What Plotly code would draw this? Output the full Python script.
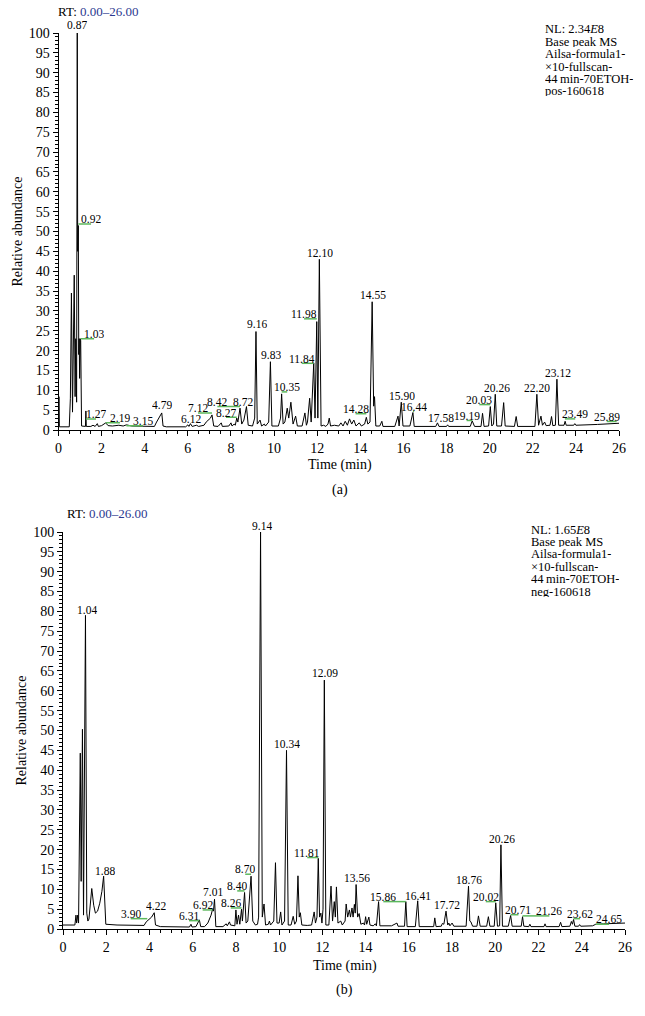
import plotly.graph_objects as go

# ---------------- data: chromatogram (a), positive mode ----------------
A_TIME = [0, 0.02, 0.04, 0.5, 0.55, 0.6, 0.65, 0.69, 0.73, 0.77, 0.8, 0.84, 0.87, 0.89, 0.92, 0.94,
          0.96, 0.98, 1.01, 1.03, 1.07, 1.25, 1.27, 1.29, 1.5, 1.6, 1.7, 1.8, 1.85, 2.0, 2.19, 2.3,
          2.5, 2.8, 3.0, 3.15, 3.4, 4.0, 4.3, 4.45, 4.55, 4.7, 4.79, 4.85, 5.0, 5.9, 6.0, 6.05,
          6.12, 6.2, 6.4, 6.5, 6.75, 6.85, 6.95, 7.05, 7.12, 7.2, 7.4, 7.55, 7.6, 7.9, 8.0, 8.05,
          8.15, 8.2, 8.27, 8.32, 8.42, 8.5, 8.6, 8.72, 8.8, 9.0, 9.1, 9.16, 9.22, 9.35, 9.42, 9.55,
          9.6, 9.75, 9.83, 9.9, 10.2, 10.3, 10.35, 10.42, 10.5, 10.61, 10.68, 10.78, 10.88, 11.0,
          11.08, 11.3, 11.43, 11.5, 11.55, 11.65, 11.72, 11.84, 11.9, 11.98, 12.03, 12.10, 12.18,
          12.3, 12.4, 12.5, 12.56, 12.62, 12.8, 13.0, 13.1, 13.2, 13.3, 13.4, 13.5, 13.6, 13.7,
          13.8, 13.95, 14.05, 14.2, 14.28, 14.35, 14.45, 14.55, 14.62, 14.66, 14.72, 14.9, 15.0,
          15.05, 15.6, 15.75, 15.8, 15.90, 15.98, 16.3, 16.44, 16.5, 17.5, 17.58, 17.65, 18.0,
          18.05, 18.1, 19.1, 19.19, 19.25, 19.3, 19.6, 19.67, 19.74, 19.95, 20.03, 20.1, 20.18,
          20.26, 20.33, 20.55, 20.65, 20.72, 21.15, 21.23, 21.3, 22.1, 22.19, 22.27, 22.38, 22.45,
          22.55, 22.62, 22.8, 22.87, 22.93, 23.05, 23.12, 23.2, 23.45, 23.5, 23.55, 23.9, 23.95,
          24.0, 25.0, 25.89, 26.0]
A_ABUND = [0.8, 8.4, 0.8, 0.8, 8, 34.5, 4.5, 24, 39, 8.4, 23, 7, 100, 45, 51.5, 19,
           23, 13, 23, 22.5, 1.0, 0.9, 4.8, 0.9, 0.9, 1.2, 0.9, 1.6, 0.9, 1.1, 1.8, 1.1,
           1.0, 1.2, 1.0, 1.3, 1.0, 0.9, 1.0, 0.9, 2.0, 3.5, 4.3, 1.0, 0.8, 0.8, 1.3, 0.9,
           1.6, 0.9, 1.2, 0.9, 1.2, 2.0, 2.5, 3.0, 3.8, 1.0, 0.9, 1.8, 0.9, 1.0, 1.8, 1.0,
           1.5, 1.2, 3.0, 2.0, 5.5, 1.5, 2.5, 5.9, 1.2, 1.0, 3.0, 24.8, 1.5, 2.5, 1.0, 1.5,
           1.0, 2.0, 17.2, 1.0, 1.0, 3.0, 9.1, 1.5, 2.0, 5.5, 3.0, 7.0, 1.5, 3.5,
           1.0, 1.0, 4.3, 1.2, 2.0, 8.0, 2.0, 16.9, 3.0, 27.3, 3.0, 43.0, 1.0,
           1.2, 0.9, 1.5, 3.0, 1.0, 1.2, 1.0, 1.8, 1.0, 2.2, 1.2, 2.8, 1.5, 2.5,
           1.0, 1.8, 1.0, 1.5, 3.2, 1.5, 2.0, 32.3, 6.0, 8.4, 1.0, 1.0, 2.2,
           0.9, 0.9, 3.5, 1.0, 7.0, 1.0, 1.0, 4.4, 0.9, 0.9, 1.8, 0.9, 0.9,
           1.3, 0.9, 0.9, 2.3, 1.2, 0.9, 0.9, 4.2, 0.9, 1.0, 5.9, 1.0, 1.5,
           9.0, 1.0, 1.0, 6.9, 1.0, 0.9, 3.4, 0.9, 0.9, 9.0, 1.2, 3.5, 1.2,
           2.0, 1.1, 1.2, 3.4, 1.1, 1.2, 12.8, 1.2, 1.2, 2.2, 1.2, 1.2, 1.6,
           1.2, 1.4, 1.8, 1.7]

# peak labels for (a): retention time text, label centre (time, abundance), green connector?
A_LABEL_RT = ["0.87", "0.92", "1.03", "1.27", "2.19", "3.15", "4.79", "6.12", "7.12", "8.42",
              "8.27", "8.72", "9.16", "9.83", "10.35", "11.98", "11.84", "12.10", "14.28",
              "14.55", "15.90", "16.44", "17.58", "19.19", "20.03", "20.26", "22.20", "23.12",
              "23.49", "25.89"]
A_LABEL_T = [0.86, 1.51, 1.65, 1.74, 2.85, 3.92, 4.80, 6.15, 6.47, 7.37,
             7.77, 8.54, 9.19, 9.86, 10.61, 11.39, 11.28, 12.13, 13.78,
             14.60, 15.93, 16.50, 17.74, 18.93, 19.52, 20.32, 22.21, 23.15,
             23.97, 25.43]
A_LABEL_V = [102.0, 53.1, 24.2, 4.0, 3.0, 2.3, 6.3, 2.8, 5.5, 7.1,
             4.4, 7.1, 26.7, 18.9, 10.8, 29.2, 18.0, 44.7, 5.3,
             34.0, 8.6, 5.9, 3.0, 3.6, 7.6, 10.5, 10.5, 14.4,
             4.0, 3.35]
A_LABEL_LINK = [False, True, True, True, True, True, False, False, True, True,
                True, False, False, False, True, True, True, False, True,
                False, False, True, False, True, True, False, False, False,
                True, True]

# ---------------- data: chromatogram (b), negative mode ----------------
B_TIME = [0, 0.55, 0.6, 0.63, 0.68, 0.72, 0.8, 0.84, 0.9, 0.95, 1.04, 1.1, 1.15, 1.2, 1.33, 1.42,
          1.5, 1.6, 1.7, 1.8, 1.88, 1.93, 1.98, 2.5, 3.0, 3.5, 3.75, 3.85, 3.95, 4.1, 4.22, 4.28,
          4.5, 5.0, 5.85, 5.92, 5.97, 6.15, 6.25, 6.31, 6.37, 6.55, 6.7, 6.85, 6.92, 6.96, 7.01,
          7.07, 7.4, 7.55, 7.6, 7.7, 7.75, 7.95, 8.0, 8.05, 8.12, 8.18, 8.26, 8.3, 8.40, 8.47,
          8.55, 8.70, 8.78, 8.9, 9.0, 9.05, 9.14, 9.22, 9.3, 9.37, 9.5, 9.55, 9.6, 9.75, 9.83,
          9.9, 10.0, 10.07, 10.13, 10.25, 10.34, 10.42, 10.55, 10.65, 10.72, 10.8, 10.87, 10.93,
          10.98, 11.05, 11.3, 11.5, 11.62, 11.68, 11.75, 11.81, 11.87, 11.93, 11.98, 12.03, 12.09,
          12.16, 12.3, 12.4, 12.47, 12.55, 12.6, 12.65, 12.72, 12.85, 12.92, 13.05, 13.1, 13.17,
          13.25, 13.3, 13.37, 13.42, 13.48, 13.52, 13.56, 13.63, 13.7, 13.78, 13.9, 13.95, 14.0,
          14.05, 14.15, 14.2, 14.35, 14.45, 14.5, 14.6, 14.66, 15.0, 15.2, 15.45, 15.5, 15.8,
          15.86, 15.92, 16.3, 16.41, 16.48, 17.15, 17.2, 17.26, 17.5, 17.55, 17.62, 17.72, 17.8,
          17.85, 17.9, 18.0, 18.08, 18.65, 18.76, 18.82, 18.87, 18.95, 19.15, 19.22, 19.3, 19.6,
          19.68, 19.75, 19.95, 20.02, 20.1, 20.2, 20.26, 20.33, 20.6, 20.71, 20.78, 21.2, 21.26,
          21.32, 21.55, 21.6, 21.65, 22.25, 22.3, 22.35, 22.95, 23.02, 23.08, 23.45, 23.52, 23.57,
          23.62, 23.68, 23.85, 23.9, 23.95, 24.5, 24.65, 25.0, 26.0]
B_ABUND = [1.0, 1.0, 3.5, 1.5, 3.5, 1.5, 44.3, 12, 50.3, 3.5, 79, 4, 2, 2.5, 10.2, 6,
           4, 4.5, 6.5, 9.5, 13.3, 5, 1.2, 1.0, 0.9, 0.8, 0.9, 1.8, 2.3, 3.0, 4.1, 1.0,
           0.6, 0.5, 0.5, 1.2, 0.5, 0.6, 1.6, 2.3, 0.6, 0.6, 1.5, 3.5, 5.0, 4.5, 7.5,
           0.6, 0.6, 1.3, 0.8, 1.8, 1.0, 0.8, 4.8, 1.2, 3.5, 1.2, 5.0, 2.0, 9.2, 1.5,
           2.0, 13.3, 2.0, 1.0, 1.2, 3.0, 100, 3.0, 6.3, 1.0, 1.2, 2.0, 1.0, 2.0, 16.7,
           1.5, 1.5, 4.3, 1.0, 2.0, 45, 1.0, 1.0, 3.2, 1.2, 2.0, 13.4, 3.0,
           4.1, 1.0, 0.9, 1.0, 4.3, 1.5, 3.0, 17.8, 3.0, 4.0, 1.5, 5.0, 62.7,
           1.0, 1.0, 10.8, 2.0, 6.9, 3.0, 10.6, 1.5, 2.0, 1.0, 2.0, 6.3, 3.0,
           4.8, 3.0, 5.3, 3.0, 6.2, 4.0, 11.2, 3.0, 3.9, 1.2, 1.5, 1.0, 3.1,
           1.2, 3.0, 1.0, 0.8, 1.3, 0.8, 6.9, 0.8, 0.7, 0.8, 1.5, 0.7, 0.7,
           6.9, 0.6, 0.6, 7.1, 0.6, 0.6, 2.8, 0.6, 0.7, 1.4, 1.2, 4.5, 1.0,
           1.5, 0.8, 1.5, 0.7, 0.7, 10.8, 2.0, 1.8, 0.7, 0.7, 3.3, 0.7, 0.7,
           3.1, 0.7, 0.7, 6.6, 0.7, 0.8, 21.2, 0.7, 0.7, 3.4, 0.7, 0.7, 3.1,
           0.7, 0.6, 1.2, 0.6, 0.6, 1.3, 0.6, 0.6, 1.7, 0.6, 0.7, 1.9, 1.2,
           2.4, 0.7, 0.7, 1.1, 0.7, 0.8, 1.2, 1.3, 1.5]

B_LABEL_RT = ["1.04", "1.88", "3.90", "4.22", "6.31", "6.92", "7.01", "8.26", "8.40", "8.70",
              "9.14", "10.34", "11.81", "12.09", "13.56", "15.86", "16.41", "17.72", "18.76",
              "20.02", "20.26", "20.71", "21.26", "23.62", "24.65"]
B_LABEL_T = [1.12, 1.96, 3.13, 4.29, 5.83, 6.46, 6.95, 7.76, 8.06, 8.43,
             9.19, 10.38, 11.30, 12.14, 13.62, 14.82, 16.44, 17.78, 18.80,
             19.56, 20.32, 21.07, 22.50, 23.92, 25.26]
B_LABEL_V = [80.4, 14.7, 3.8, 5.8, 3.3, 6.0, 9.2, 6.5, 10.8, 15.0,
             101.5, 46.5, 19.2, 64.4, 12.8, 8.1, 8.3, 6.0, 12.3,
             8.1, 22.7, 4.8, 4.5, 3.8, 2.4]
B_LABEL_LINK = [False, False, True, False, True, True, False, True, True, True,
                False, False, True, False, False, True, False, False, False,
                True, False, True, True, True, True]

X_TICKS = list(range(0, 27, 2))
Y_TICKS = list(range(0, 101, 5))
Y_MAX = 100

A_INFO = ["NL: 2.34<i>E</i>8", "Base peak MS", "Ailsa-formula1-", "\u00d710-fullscan-",
          "44\u2009min-70ETOH-", "pos-160618"]
B_INFO = ["NL: 1.65<i>E</i>8", "Base peak MS", "Ailsa-formula1-", "\u00d710-fullscan-",
          "44\u2009min-70ETOH-", "neg-160618"]

# ---------------- figure ----------------
W, H = 645, 1016
FONT = "Liberation Serif, Times New Roman, serif"
GREEN = "#5cb85c"
NAVY = "#2b3990"


def py2paper(py):
    return 1 - py / H


def px2paper(px):
    return px / W


fig = go.Figure()

panels = [
    dict(t=A_TIME, v=A_ABUND, lrt=A_LABEL_RT, lt=A_LABEL_T, lv=A_LABEL_V, link=A_LABEL_LINK,
         xa="x", ya="y", x0=58.5, x1=619, ytop=33, ybot=430, info=A_INFO, info_x=544, info_y=29,
         rt_x=56, rt_y=12, ytitle_x=17, xtitle_y=465, cap="(a)", cap_y=490, cx=340),
    dict(t=B_TIME, v=B_ABUND, lrt=B_LABEL_RT, lt=B_LABEL_T, lv=B_LABEL_V, link=B_LABEL_LINK,
         xa="x2", ya="y2", x0=63, x1=625, ytop=532, ybot=929, info=B_INFO, info_x=530, info_y=529,
         rt_x=65, rt_y=513, ytitle_x=21, xtitle_y=966, cap="(b)", cap_y=990, cx=345),
]

annotations = []
for p in panels:
    fig.add_trace(go.Scatter(x=p["t"], y=p["v"], mode="lines", xaxis=p["xa"], yaxis=p["ya"],
                             line=dict(color="black", width=1), showlegend=False,
                             hoverinfo="skip"))
    # green connectors from label to peak
    gx, gy = [], []
    for rt, lt, lv, lk in zip(p["lrt"], p["lt"], p["lv"], p["link"]):
        if lk:
            gx += [lt, float(rt), None]
            gy += [lv - 1.2, lv - 1.2, None]
    fig.add_trace(go.Scatter(x=gx, y=gy, mode="lines", xaxis=p["xa"], yaxis=p["ya"],
                             line=dict(color=GREEN, width=1.5), showlegend=False,
                             hoverinfo="skip"))
    for rt, lt, lv in zip(p["lrt"], p["lt"], p["lv"]):
        annotations.append(dict(x=lt, y=lv / Y_MAX, xref=p["xa"], yref=p["ya"] + " domain",
                                text=rt, showarrow=False, xanchor="center", yanchor="middle",
                                height=10, borderpad=0,
                                font=dict(family=FONT, size=11.5, color="black")))
    # info block
    for i, line in enumerate(p["info"]):
        annotations.append(dict(x=px2paper(p["info_x"]), y=py2paper(p["info_y"] + 12.4 * i),
                                xref="paper", yref="paper", text=line, showarrow=False,
                                xanchor="left", yanchor="middle", height=11, borderpad=0,
                                font=dict(family=FONT, size=12.5, color="black")))
    annotations.append(dict(x=px2paper(p["rt_x"]), y=py2paper(p["rt_y"]), xref="paper",
                            yref="paper", showarrow=False, xanchor="left", yanchor="middle",
                            text="RT: <span style='color:%s'>0.00\u201326.00</span>" % NAVY,
                            font=dict(family=FONT, size=13, color="black")))
    annotations.append(dict(x=px2paper(p["ytitle_x"]), y=py2paper((p["ytop"] + p["ybot"]) / 2),
                            xref="paper", yref="paper", showarrow=False, textangle=-90,
                            text="Relative abundance", xanchor="center", yanchor="middle",
                            font=dict(family=FONT, size=14, color="black")))
    annotations.append(dict(x=px2paper(p["cx"]), y=py2paper(p["xtitle_y"]), xref="paper",
                            yref="paper", showarrow=False, text="Time (min)",
                            xanchor="center", yanchor="middle",
                            font=dict(family=FONT, size=14, color="black")))
    annotations.append(dict(x=px2paper(p["cx"]), y=py2paper(p["cap_y"]), xref="paper",
                            yref="paper", showarrow=False, text=p["cap"],
                            xanchor="center", yanchor="middle",
                            font=dict(family=FONT, size=14, color="black")))

axis_common = dict(showgrid=False, zeroline=False, showline=True, linecolor="black",
                   linewidth=1, ticks="outside", tickcolor="black", tickwidth=1,
                   automargin=False,
                   tickfont=dict(family=FONT, size=14, color="black"))

layout_axes = {}
for i, p in enumerate(panels):
    sx = "" if i == 0 else "2"
    layout_axes["xaxis" + sx] = dict(
        axis_common, domain=[px2paper(p["x0"]), px2paper(p["x1"])], range=[0, 26],
        anchor="y" + sx, tickmode="array", tickvals=X_TICKS, ticklen=5,
        minor=dict(tickmode="linear", tick0=0, dtick=0.5, ticks="outside", ticklen=3,
                   tickcolor="black", showgrid=False))
    layout_axes["yaxis" + sx] = dict(
        axis_common, domain=[py2paper(p["ybot"]), py2paper(p["ytop"])], range=[0, Y_MAX],
        anchor="x" + sx, tickmode="array", tickvals=Y_TICKS, ticklen=5,
        minor=dict(tickmode="linear", tick0=0, dtick=1, ticks="outside", ticklen=3,
                   tickcolor="black", showgrid=False))

fig.update_layout(width=W, height=H, margin=dict(l=0, r=0, t=0, b=0, pad=0),
                  paper_bgcolor="white", plot_bgcolor="white", template="none",
                  annotations=annotations, **layout_axes)

fig.write_html("out.html", config={"displayModeBar": False},
               post_script="document.body.style.margin='0px';")
